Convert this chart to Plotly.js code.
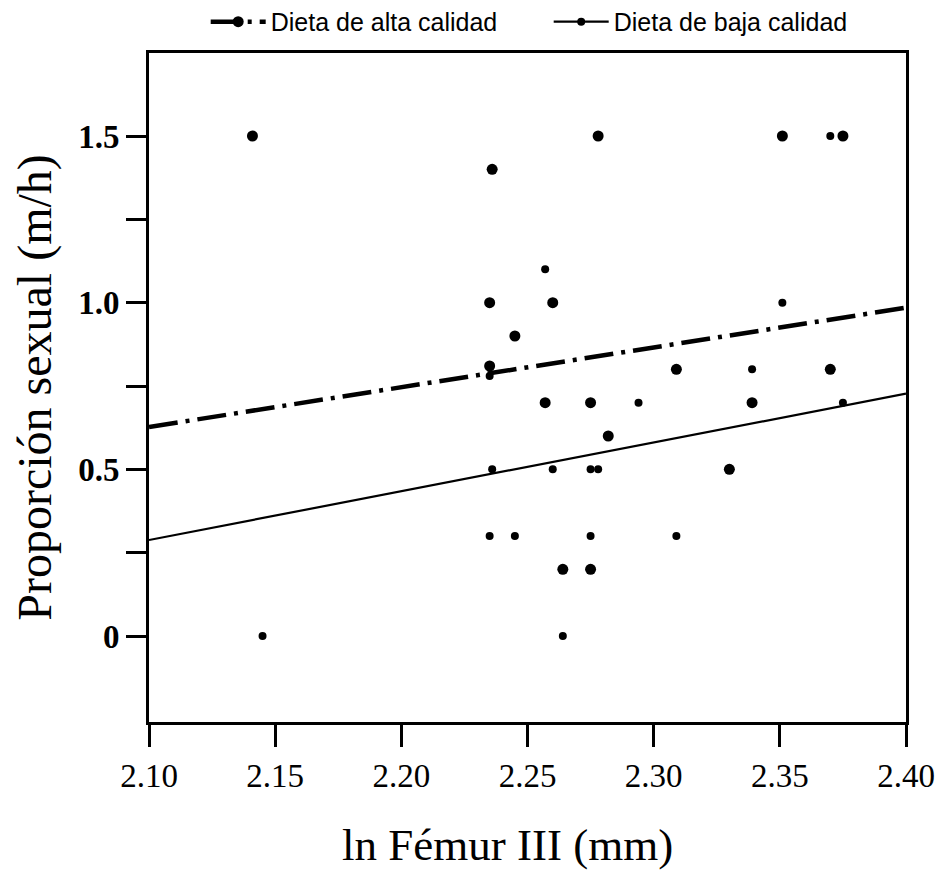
<!DOCTYPE html>
<html><head><meta charset="utf-8">
<script src="https://cdn.plot.ly/plotly-3.0.1.min.js"></script>
<style>html,body{margin:0;padding:0;background:#fff}#chart{width:948px;height:872px}</style>
</head><body><div id="chart"></div>
<script>
// Data
const seriesNames = ['Dieta de alta calidad', 'Dieta de baja calidad'];
const xTitle = 'ln Fémur III (mm)';
const yTitle = 'Proporción sexual (m/h)';

const altaX = [2.141, 2.236, 2.235, 2.260, 2.245, 2.235, 2.257, 2.275, 2.282, 2.264, 2.275, 2.278, 2.309, 2.330, 2.339, 2.351, 2.375, 2.370];
const altaY = [1.5,   1.4,   1.0,   1.0,   0.9,   0.81,  0.7,   0.7,   0.6,   0.2,   0.2,   1.5,   0.8,   0.5,   0.7,   1.5,   1.5,   0.8];

const bajaX = [2.145, 2.235, 2.236, 2.260, 2.235, 2.245, 2.257, 2.264, 2.275, 2.278, 2.275, 2.294, 2.309, 2.339, 2.351, 2.370, 2.375];
const bajaY = [0.0,   0.78,  0.5,   0.5,   0.3,   0.3,   1.1,   0.0,   0.5,   0.5,   0.3,   0.7,   0.3,   0.8,   1.0,   1.5,   0.7];

const fitX = [2.10, 2.40];
const altaFitY = [0.627, 0.985];
const bajaFitY = [0.288, 0.727];

const xTickVals = [2.10, 2.15, 2.20, 2.25, 2.30, 2.35, 2.40];
const xTickText = ['2.10', '2.15', '2.20', '2.25', '2.30', '2.35', '2.40'];
const yTickVals = [0, 0.25, 0.5, 0.75, 1.0, 1.25, 1.5];
const yTickText = ['0', '', '0.5', '', '1.0', '', '1.5'];

const altaLine = {color: '#000', width: 4.5, dash: '29px,8px,4px,8px'};
const bajaLine = {color: '#000', width: 2.2};
const altaMarker = {color: '#000', size: 11};
const bajaMarker = {color: '#000', size: 8};

const traces = [
  {x: fitX, y: altaFitY, mode: 'lines', line: altaLine, showlegend: false, hoverinfo: 'skip'},
  {x: fitX, y: bajaFitY, mode: 'lines', line: bajaLine, showlegend: false, hoverinfo: 'skip'},
  {x: altaX, y: altaY, mode: 'markers', marker: altaMarker, showlegend: false},
  {x: bajaX, y: bajaY, mode: 'markers', marker: bajaMarker, showlegend: false},
  {x: [null], y: [null], mode: 'lines+markers', name: seriesNames[0], line: altaLine, marker: altaMarker},
  {x: [null], y: [null], mode: 'lines+markers', name: seriesNames[1], line: bajaLine, marker: bajaMarker}
];

const serif = 'Liberation Serif, Times New Roman, serif';

const axisCommon = {
  showline: true, linewidth: 3, linecolor: '#000', mirror: true,
  ticks: 'outside', tickwidth: 3, tickcolor: '#000',
  showgrid: false, zeroline: false
};

const layout = {
  width: 948, height: 872,
  paper_bgcolor: '#fff', plot_bgcolor: '#fff',
  margin: {l: 149, r: 42, t: 53, b: 150, autoexpand: false},
  showlegend: true,
  legend: {
    orientation: 'h', x: 0.528, xanchor: 'center', y: 1.012, yanchor: 'bottom',
    font: {family: 'Liberation Sans, Arial, sans-serif', size: 25, color: '#000'},
    itemwidth: 55, entrywidth: 273, bgcolor: 'rgba(0,0,0,0)'
  },
  xaxis: Object.assign({}, axisCommon, {
    range: [2.10, 2.40], tickmode: 'array', tickvals: xTickVals, ticktext: xTickText,
    ticklen: 22,
    tickfont: {family: serif, size: 33, color: '#000'}
  }),
  yaxis: Object.assign({}, axisCommon, {
    range: [-0.258, 1.749], tickmode: 'array', tickvals: yTickVals, ticktext: yTickText,
    ticklen: 20,
    tickfont: {family: serif, size: 33, color: '#000', weight: 'bold'},
    title: {text: yTitle, standoff: 12, font: {family: serif, size: 48, color: '#000'}}
  }),
  annotations: [
    {text: xTitle, xref: 'paper', yref: 'paper', x: 0.473, y: 0, xanchor: 'center', yanchor: 'top',
     yshift: -96, showarrow: false, font: {family: serif, size: 45, color: '#000'}}
  ]
};

Plotly.newPlot('chart', traces, layout, {displayModeBar: false, staticPlot: true});
</script>
</body></html>
